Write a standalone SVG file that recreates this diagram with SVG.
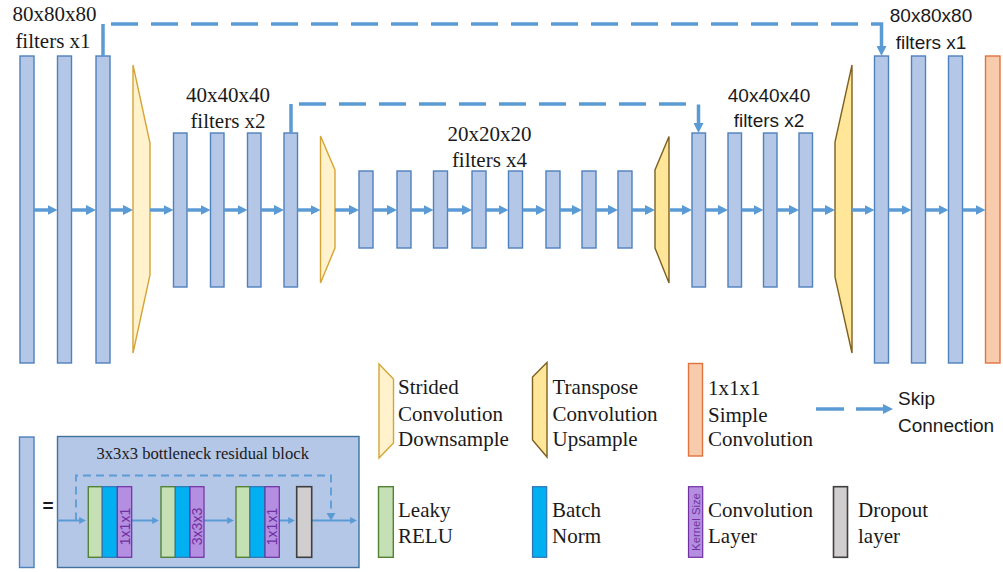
<svg xmlns="http://www.w3.org/2000/svg" width="1003" height="572" viewBox="0 0 1003 572">
  <style>
    .blk { fill: #b4c7e7; stroke: #4f81bd; stroke-width: 1.4; }
    .out { fill: #f8cbad; stroke: #e0743f; stroke-width: 1.4; }
    .down { fill: #fff2cc; stroke: #d4a536; stroke-width: 1.4; }
    .up { fill: #ffe699; stroke: #7f6020; stroke-width: 1.4; }
    .relu { fill: #c5e0b4; stroke: #548235; stroke-width: 1.4; }
    .bn { fill: #00b0f0; stroke: #2e75b6; stroke-width: 1.2; }
    .conv { fill: #b48ee0; stroke: #7030a0; stroke-width: 1.2; }
    .drop { fill: #d0cece; stroke: #3f3f3f; stroke-width: 1.6; }
    .flow { stroke: #5b9bd5; stroke-width: 3.5; fill: none; marker-end: url(#ah); }
    .skip { stroke: #5b9bd5; stroke-width: 3.5; fill: none; stroke-dasharray: 27 13; }
    .thin { stroke: #5b9bd5; stroke-width: 2; fill: none; marker-end: url(#ahs); }
    .serif { font-family: "Liberation Serif", "Times New Roman", serif; font-size: 21px; fill: #1a1a1a; }
    .sans { font-family: "Liberation Sans", Arial, sans-serif; font-size: 19px; fill: #1a1a1a; }
    .kern { font-family: "Liberation Sans", Arial, sans-serif; fill: #7030a0; }
  </style>
  <defs>
    <marker id="ah" viewBox="0 0 10 10" markerWidth="10" markerHeight="10" markerUnits="userSpaceOnUse" refX="4" refY="5" orient="auto">
      <path d="M0,0 L10,5 L0,10 z" fill="#5b9bd5"/>
    </marker>
    <marker id="ahs" viewBox="0 0 10 10" markerWidth="7" markerHeight="7" markerUnits="userSpaceOnUse" refX="4" refY="5" orient="auto">
      <path d="M0,0 L10,5 L0,10 z" fill="#5b9bd5"/>
    </marker>
  </defs>

  <!-- encoder, 80^3 level -->
  <g id="enc80">
    <rect class="blk" x="20" y="56" width="14" height="307"/>
    <rect class="blk" x="57.5" y="56" width="14" height="307"/>
    <rect class="blk" x="96" y="56" width="14" height="307"/>
    <text class="serif" x="54.5" y="21" text-anchor="middle">80x80x80</text>
    <text class="serif" x="53" y="48" text-anchor="middle">filters x1</text>
  </g>
  <g id="down1"><polygon class="down" points="133,65 150,143 150,275 133,353"/></g>

  <!-- encoder, 40^3 level -->
  <g id="enc40">
    <rect class="blk" x="173.5" y="133" width="13.5" height="154"/>
    <rect class="blk" x="210.5" y="133" width="13.5" height="154"/>
    <rect class="blk" x="247.5" y="133" width="13.5" height="154"/>
    <rect class="blk" x="284" y="133" width="13.5" height="154"/>
    <text class="serif" x="228" y="102" text-anchor="middle">40x40x40</text>
    <text class="serif" x="228" y="128" text-anchor="middle">filters x2</text>
  </g>
  <g id="down2"><polygon class="down" points="320.5,136 335,170 335,248 320.5,283"/></g>

  <!-- bottleneck, 20^3 level -->
  <g id="mid20">
    <rect class="blk" x="359" y="171" width="14" height="77"/>
    <rect class="blk" x="397" y="171" width="14" height="77"/>
    <rect class="blk" x="433.5" y="171" width="14" height="77"/>
    <rect class="blk" x="472" y="171" width="14" height="77"/>
    <rect class="blk" x="508.5" y="171" width="14" height="77"/>
    <rect class="blk" x="546" y="171" width="14" height="77"/>
    <rect class="blk" x="582" y="171" width="14" height="77"/>
    <rect class="blk" x="618" y="171" width="14" height="77"/>
    <text class="serif" x="489.5" y="141" text-anchor="middle">20x20x20</text>
    <text class="serif" x="489.5" y="167" text-anchor="middle">filters x4</text>
  </g>
  <g id="up1"><polygon class="up" points="669,136.5 669,283 655,248 655,170"/></g>

  <!-- decoder, 40^3 level -->
  <g id="dec40">
    <rect class="blk" x="692" y="133" width="13.5" height="154"/>
    <rect class="blk" x="728" y="133" width="13.5" height="154"/>
    <rect class="blk" x="763.5" y="133" width="13.5" height="154"/>
    <rect class="blk" x="799" y="133" width="13.5" height="154"/>
    <text class="sans" x="769" y="102" text-anchor="middle">40x40x40</text>
    <text class="sans" x="769" y="127" text-anchor="middle">filters x2</text>
  </g>
  <g id="up2"><polygon class="up" points="852,65 852,353 835,277 835,142"/></g>

  <!-- decoder, 80^3 level and output -->
  <g id="dec80">
    <rect class="blk" x="874.5" y="56" width="14" height="307"/>
    <rect class="blk" x="911.5" y="56" width="14" height="307"/>
    <rect class="blk" x="948.5" y="56" width="14" height="307"/>
    <text class="sans" x="931" y="22" text-anchor="middle">80x80x80</text>
    <text class="sans" x="931" y="49" text-anchor="middle">filters x1</text>
  </g>
  <g id="output"><rect class="out" x="985.5" y="56" width="14.5" height="307"/></g>

  <!-- data flow and skip connections -->
  <g id="connectors">
    <line class="flow" x1="34" y1="210" x2="51.5" y2="210"/>
    <line class="flow" x1="71.5" y1="210" x2="90" y2="210"/>
    <line class="flow" x1="110" y1="210" x2="127" y2="210"/>
    <line class="flow" x1="150" y1="210" x2="167.5" y2="210"/>
    <line class="flow" x1="187" y1="210" x2="204.5" y2="210"/>
    <line class="flow" x1="224" y1="210" x2="241.5" y2="210"/>
    <line class="flow" x1="261" y1="210" x2="278" y2="210"/>
    <line class="flow" x1="297.5" y1="210" x2="314.5" y2="210"/>
    <line class="flow" x1="335" y1="210" x2="353" y2="210"/>
    <line class="flow" x1="373" y1="210" x2="391" y2="210"/>
    <line class="flow" x1="411" y1="210" x2="427.5" y2="210"/>
    <line class="flow" x1="447.5" y1="210" x2="466" y2="210"/>
    <line class="flow" x1="486" y1="210" x2="502.5" y2="210"/>
    <line class="flow" x1="522.5" y1="210" x2="540" y2="210"/>
    <line class="flow" x1="560" y1="210" x2="576" y2="210"/>
    <line class="flow" x1="596" y1="210" x2="612" y2="210"/>
    <line class="flow" x1="632" y1="210" x2="649" y2="210"/>
    <line class="flow" x1="669" y1="210" x2="686" y2="210"/>
    <line class="flow" x1="705.5" y1="210" x2="722" y2="210"/>
    <line class="flow" x1="741.5" y1="210" x2="757.5" y2="210"/>
    <line class="flow" x1="777" y1="210" x2="793" y2="210"/>
    <line class="flow" x1="812.5" y1="210" x2="829" y2="210"/>
    <line class="flow" x1="852" y1="210" x2="868.5" y2="210"/>
    <line class="flow" x1="888.5" y1="210" x2="905.5" y2="210"/>
    <line class="flow" x1="925.5" y1="210" x2="942.5" y2="210"/>
    <line class="flow" x1="962.5" y1="210" x2="979.5" y2="210"/>

    <!-- long skip, 80^3 -->
    <line x1="103" y1="56" x2="103" y2="24" stroke="#5b9bd5" stroke-width="3.5"/>
    <path class="skip" d="M111,24 H881.5 V38"/>
    <line class="flow" x1="881.5" y1="38" x2="881.5" y2="50"/>
    <!-- short skip, 40^3 -->
    <line x1="291" y1="133" x2="291" y2="104" stroke="#5b9bd5" stroke-width="3.5"/>
    <path class="skip" d="M299,104 H698.5 V116"/>
    <line class="flow" x1="698.5" y1="116" x2="698.5" y2="127"/>
  </g>

  <!-- residual block definition -->
  <g id="block-def">
    <rect class="blk" x="19.5" y="437" width="14.5" height="130.5"/>
    <text x="48" y="512" text-anchor="middle" font-family="Liberation Sans, Arial, sans-serif" font-size="19" font-weight="bold" fill="#1a1a1a">=</text>
    <rect x="57.5" y="436.5" width="301.5" height="131" fill="#b4c7e7" stroke="#41719c" stroke-width="1.4"/>
    <text x="96.5" y="459" font-family="Liberation Serif, Times New Roman, serif" font-size="16.6" fill="#1a1a1a">3x3x3 bottleneck residual block</text>

    <path d="M76,520.5 V475.5 H331 V514" fill="none" stroke="#5b9bd5" stroke-width="1.8" stroke-dasharray="8 5"/>
    <path d="M326.5,513 L331,520.5 L335.5,513 z" fill="#5b9bd5"/>

    <line class="thin" x1="57.5" y1="520.5" x2="82" y2="520.5"/>
    <line class="thin" x1="131.7" y1="520.5" x2="155" y2="520.5"/>
    <line class="thin" x1="204" y1="520.5" x2="230" y2="520.5"/>
    <line class="thin" x1="279.3" y1="520.5" x2="291" y2="520.5"/>
    <line class="thin" x1="311.7" y1="520.5" x2="353" y2="520.5"/>

    <rect class="relu" x="88.3" y="486.7" width="14" height="70.6"/>
    <rect class="bn" x="102.3" y="486.7" width="15" height="70.6"/>
    <rect class="conv" x="117.3" y="486.7" width="14.4" height="70.6"/>
    <text class="kern" font-size="14" transform="translate(124.5,526.5) rotate(-90)" text-anchor="middle" dominant-baseline="central">1x1x1</text>

    <rect class="relu" x="161" y="486.7" width="14.3" height="70.6"/>
    <rect class="bn" x="175.3" y="486.7" width="14.7" height="70.6"/>
    <rect class="conv" x="190" y="486.7" width="14" height="70.6"/>
    <text class="kern" font-size="14" transform="translate(197,526.5) rotate(-90)" text-anchor="middle" dominant-baseline="central">3x3x3</text>

    <rect class="relu" x="236" y="486.7" width="14" height="70.6"/>
    <rect class="bn" x="250" y="486.7" width="15" height="70.6"/>
    <rect class="conv" x="265" y="486.7" width="14.3" height="70.6"/>
    <text class="kern" font-size="14" transform="translate(272.2,526.5) rotate(-90)" text-anchor="middle" dominant-baseline="central">1x1x1</text>

    <rect class="drop" x="296.7" y="486.7" width="15" height="70.6"/>
  </g>

  <!-- legend -->
  <g id="legend-down">
    <polygon class="down" points="379,364 393.5,379 393.5,443 379,458"/>
    <text class="serif" x="398" y="394">Strided</text>
    <text class="serif" x="398" y="421">Convolution</text>
    <text class="serif" x="398" y="446">Downsample</text>
  </g>
  <g id="legend-up">
    <polygon class="up" points="547,362.5 547,457 532.5,440 532.5,377"/>
    <text class="serif" x="552.5" y="394">Transpose</text>
    <text class="serif" x="552.5" y="421">Convolution</text>
    <text class="serif" x="552.5" y="446">Upsample</text>
  </g>
  <g id="legend-out">
    <rect class="out" x="688.5" y="363.5" width="14" height="92.5"/>
    <text class="serif" x="708" y="395">1x1x1</text>
    <text class="serif" x="708" y="421.5">Simple</text>
    <text class="serif" x="708" y="446">Convolution</text>
  </g>
  <g id="legend-skip">
    <line x1="816" y1="409" x2="844" y2="409" stroke="#5b9bd5" stroke-width="3.5"/>
    <line class="flow" x1="856" y1="409" x2="887" y2="409"/>
    <text class="sans" x="898" y="405">Skip</text>
    <text class="sans" x="898" y="431.5">Connection</text>
  </g>
  <g id="legend-relu">
    <rect class="relu" x="378.5" y="486.7" width="14.8" height="70.6"/>
    <text class="serif" x="398" y="517">Leaky</text>
    <text class="serif" x="398" y="543">RELU</text>
  </g>
  <g id="legend-bn">
    <rect class="bn" x="532.5" y="486.7" width="14.2" height="70.6"/>
    <text class="serif" x="552" y="517">Batch</text>
    <text class="serif" x="552" y="543">Norm</text>
  </g>
  <g id="legend-conv">
    <rect class="conv" x="688.5" y="486.7" width="14.2" height="70.6"/>
    <text class="kern" font-size="11.3" transform="translate(695.6,522) rotate(-90)" text-anchor="middle" dominant-baseline="central">Kernel Size</text>
    <text class="serif" x="708" y="517">Convolution</text>
    <text class="serif" x="708" y="543">Layer</text>
  </g>
  <g id="legend-drop">
    <rect class="drop" x="833.5" y="486.7" width="14" height="70.6"/>
    <text class="serif" x="858" y="517">Dropout</text>
    <text class="serif" x="858" y="543">layer</text>
  </g>
</svg>
